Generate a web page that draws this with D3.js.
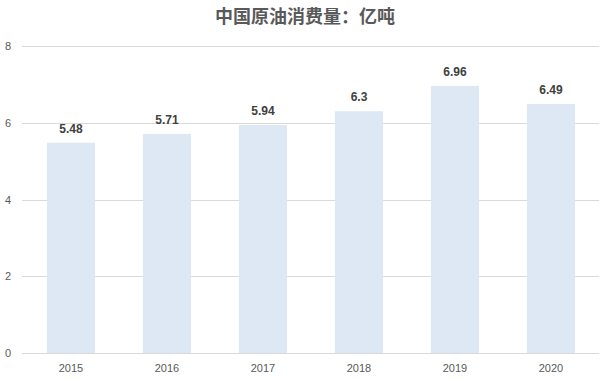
<!DOCTYPE html>
<html><head><meta charset="utf-8">
<script src="https://cdn.jsdelivr.net/npm/d3@7"></script>
<style>body{margin:0;background:#fff;} svg{display:block;}</style>
</head><body>
<script>
const years = ["2015","2016","2017","2018","2019","2020"];
const values = [5.48, 5.71, 5.94, 6.3, 6.96, 6.49];
const yTicks = [0, 2, 4, 6, 8];
const title = "中国原油消费量：亿吨";

const W = 606, H = 379;
const m = {left: 23, right: 7, top: 46, bottom: 26};
const svg = d3.select("body").append("svg").attr("width", W).attr("height", H);
const font = "'Microsoft YaHei','Noto Sans CJK SC','DejaVu Sans',sans-serif";

const x = d3.scaleBand().domain(years).range([m.left, W - m.right]).paddingInner(0.5).paddingOuter(0.25);
const y = d3.scaleLinear().domain([0, 8]).range([H - m.bottom, m.top]);

svg.append("text").attr("x", W/2 + 2).attr("y", 23).attr("text-anchor", "middle")
  .attr("font-family", font).attr("font-size", 18).attr("font-weight", "bold").attr("fill", "#595959").text(title);

svg.append("g").selectAll("line").data(yTicks).join("line")
  .attr("x1", m.left - 1).attr("x2", W - m.right)
  .attr("y1", d => Math.round(y(d)) + 0.5).attr("y2", d => Math.round(y(d)) + 0.5)
  .attr("stroke", "#d9d9d9").attr("stroke-width", 1);

svg.append("g").selectAll("text").data(yTicks).join("text")
  .attr("x", 8).attr("y", d => y(d) + 4).attr("text-anchor", "middle")
  .attr("font-family", "'Liberation Sans',Arial,sans-serif").attr("font-size", 11).attr("fill", "#595959").text(d => d);

svg.append("g").selectAll("rect").data(values).join("rect")
  .attr("x", (d, i) => x(years[i])).attr("width", x.bandwidth())
  .attr("y", d => y(d)).attr("height", d => y(0) - y(d))
  .attr("fill", "#dee8f4");

svg.append("g").selectAll("text").data(values).join("text")
  .attr("x", (d, i) => x(years[i]) + x.bandwidth()/2).attr("y", d => y(d) - 10)
  .attr("text-anchor", "middle").attr("font-family", "'Liberation Sans',Arial,sans-serif")
  .attr("font-size", 12).attr("font-weight", "bold").attr("fill", "#404040").text(d => d);

svg.append("g").selectAll("text").data(years).join("text")
  .attr("x", d => x(d) + x.bandwidth()/2).attr("y", H - 7)
  .attr("text-anchor", "middle").attr("font-family", "'Liberation Sans',Arial,sans-serif")
  .attr("font-size", 11).attr("fill", "#595959").text(d => d);
</script>
</body></html>
